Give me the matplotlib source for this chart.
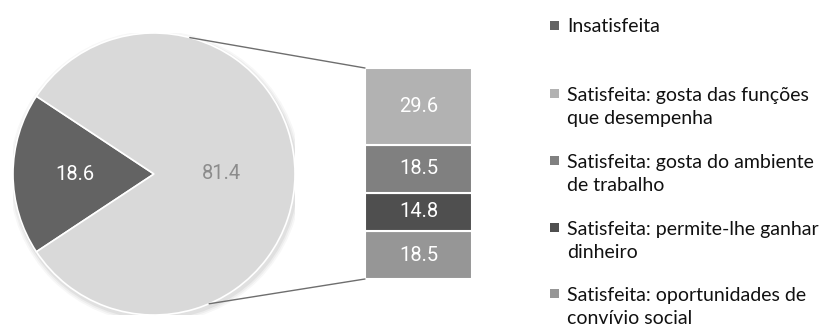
import numpy as np
import matplotlib
matplotlib.use("Agg")
import matplotlib.pyplot as plt
from matplotlib.patches import Circle, Rectangle, ConnectionPatch

# satisfaction data (%)
pie_labels = ["Insatisfeita", "Satisfeita"]
pie_values = [18.6, 81.4]
pie_colors = ["#636363", "#d9d9d9"]
pie_text_colors = ["white", "#8c8c8c"]

# breakdown of "Satisfeita", listed top to bottom in the bar
bar_labels = [
    "Satisfeita: gosta das funções\nque desempenha",
    "Satisfeita: gosta do ambiente\nde trabalho",
    "Satisfeita: permite-lhe ganhar\ndinheiro",
    "Satisfeita: oportunidades de\nconvívio social",
]
bar_values = [29.6, 18.5, 14.8, 18.5]
bar_colors = ["#b2b2b2", "#808080", "#4f4f4f", "#969696"]

W, H = 828, 329
fig = plt.figure(figsize=(W / 100, H / 100), dpi=100)
num_font = dict(fontsize=14.5, family="Roboto", fontweight="normal")

# --- pie ---
cx, cy, r = 154, 174, 141
ax_pie = fig.add_axes([(cx - r) / W, (H - cy - r) / H, 2 * r / W, 2 * r / H])
span = pie_values[0] / sum(pie_values) * 360
# soft shadow
for k, a in enumerate([0.05, 0.04, 0.03]):
    ax_pie.add_patch(Circle((0.01, -0.02), 1.0 + 0.012 * (k + 1), color="k", alpha=a, lw=0, zorder=0))
wedges, _ = ax_pie.pie(pie_values, colors=pie_colors, startangle=180 - span / 2,
                       radius=1.0, wedgeprops=dict(edgecolor="white", linewidth=1.2))
for w, v, c, d in zip(wedges, pie_values, pie_text_colors, [0.56, 0.48]):
    ang = np.deg2rad((w.theta1 + w.theta2) / 2)
    ax_pie.text(d * np.cos(ang), d * np.sin(ang), f"{v:.1f}", ha="center", va="center",
                color=c, **num_font)
ax_pie.set_xlim(-1, 1)
ax_pie.set_ylim(-1, 1)
ax_pie.set_aspect("equal")
ax_pie.axis("off")

# --- stacked bar ---
bx0, bx1, by0, by1 = 365, 472, 68, 279
ax_bar = fig.add_axes([bx0 / W, (H - by1) / H, (bx1 - bx0) / W, (by1 - by0) / H])
bottom = 0
for v, c in zip(bar_values[::-1], bar_colors[::-1]):
    bars = ax_bar.bar(0, v, width=1, bottom=bottom, color=c, edgecolor="white", linewidth=1.5)
    ax_bar.bar_label(bars, labels=[f"{v:.1f}"], label_type="center", color="white", **num_font)
    bottom += v
ax_bar.set_xlim(-0.5, 0.5)
ax_bar.set_ylim(0, sum(bar_values))
ax_bar.axis("off")

# lines joining the pie to the bar
for ang, ybar in [(75.3, sum(bar_values)), (-67.0, 0)]:
    t = np.deg2rad(ang)
    con = ConnectionPatch(xyA=(-0.5, ybar), coordsA=ax_bar.transData,
                          xyB=(np.cos(t), np.sin(t)), coordsB=ax_pie.transData,
                          color="#6e6e6e", linewidth=1.0)
    fig.add_artist(con)

# --- legend ---
legend_labels = [pie_labels[0]] + bar_labels
legend_colors = [pie_colors[0]] + bar_colors
legend_rows = [25, 93, 160, 227, 293]
line_h = 24
for lab, col, y in zip(legend_labels, legend_colors, legend_rows):
    fig.patches.append(Rectangle((550 / W, (H - y - 4.5) / H), 9 / W, 9 / H,
                                 transform=fig.transFigure, color=col, lw=0))
    last_base = y + 7 + line_h * lab.count("\n")
    fig.text(567 / W, (H - last_base) / H, lab, ha="left", va="baseline", fontsize=14,
             family="Lato", color="#111111", linespacing=1.4)

fig.savefig("out.png", dpi=100)
